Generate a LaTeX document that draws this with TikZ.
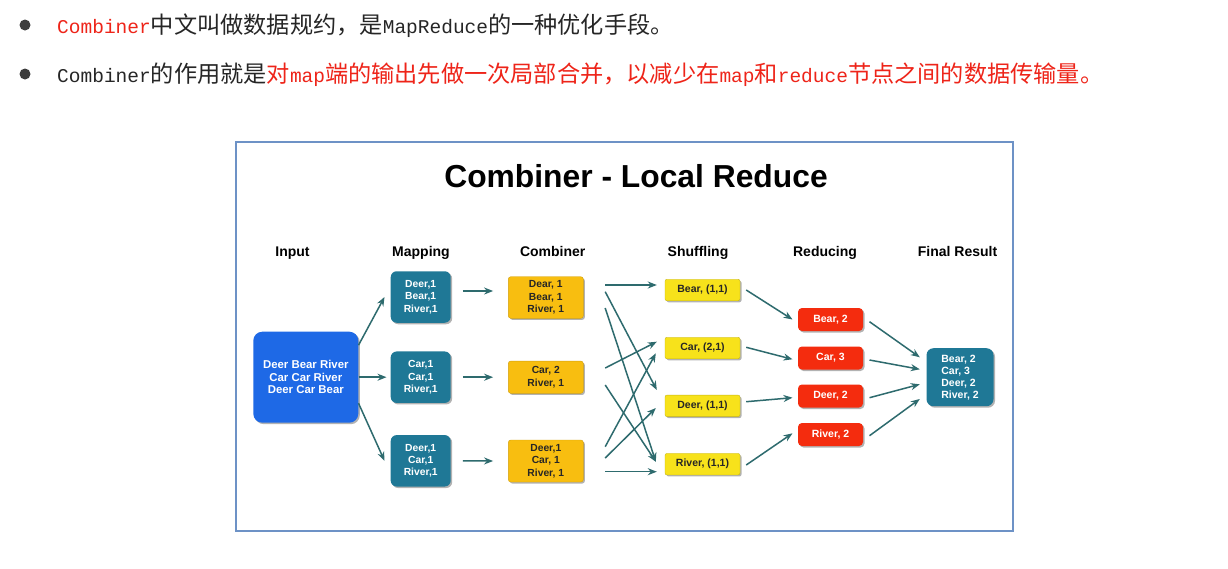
\documentclass[tikz,border=0pt]{standalone}
\usepackage{fontspec}
\setmainfont{Liberation Sans}
\newfontfamily\cjk{Noto Sans CJK SC}
\newfontfamily\lmono{Liberation Mono}
\usetikzlibrary{arrows.meta,shadows}
\definecolor{tred}{HTML}{EE2419}
\definecolor{tblack}{HTML}{262626}
\definecolor{framec}{HTML}{6D92C6}
\definecolor{inblue}{HTML}{1E69E6}
\definecolor{tealc}{HTML}{1F7896}
\definecolor{goldc}{HTML}{F8BE10}
\definecolor{yelc}{HTML}{F7E21B}
\definecolor{redc}{HTML}{F42C0E}
\definecolor{arrc}{HTML}{2E6B6E}
\newcommand\latn[1]{{\lmono\fontsize{19.5}{19.5}\selectfont #1}}
\begin{document}
\begin{tikzpicture}[x=1pt,y=-1pt,
  toptext/.style={anchor=base west, inner sep=0, font=\cjk\fontsize{23.2}{23.2}\selectfont, text=tblack},
  bullet/.style={circle, fill=tblack!90, minimum size=11pt, inner sep=0},
  hdr/.style={anchor=base, font=\bfseries\fontsize{14}{14}\selectfont, inner sep=0},
  shad/.style={drop shadow={shadow xshift=1.5pt, shadow yshift=-1.5pt, opacity=0.3, fill=black}},
  box/.style={shad, inner sep=0, align=center, font=\bfseries\fontsize{10.3}{12.3}\selectfont},
  inbox/.style={box, fill=inblue, text=white, rounded corners=9pt, minimum width=105pt, minimum height=91pt, font=\bfseries\fontsize{11.4}{12.5}\selectfont},
  mapbox/.style={box, fill=tealc, text=white, rounded corners=6pt, minimum width=60pt, minimum height=51.5pt},
  combox/.style={box, fill=goldc, draw=goldc!85!black, line width=0.4pt, text=black!85, rounded corners=2.5pt, minimum width=75pt},
  shufbox/.style={box, fill=yelc, draw=yelc!80!black, line width=0.4pt, text=black!85, rounded corners=2pt, minimum width=75pt, minimum height=21.5pt, font=\bfseries\fontsize{10.5}{12}\selectfont},
  redbox/.style={box, fill=redc, text=white, rounded corners=4pt, minimum width=65pt, minimum height=23pt, font=\bfseries\fontsize{10.5}{12}\selectfont},
  finbox/.style={box, fill=tealc, text=white, rounded corners=7pt, minimum width=67pt, minimum height=58pt, align=left, font=\bfseries\fontsize{10.5}{12}\selectfont},
  arr/.style={draw=arrc, line width=1.5pt, -{Stealth[length=9pt,width=7pt]}}
]
\fill[white] (0,0) rectangle (1228,568);
\useasboundingbox (0,0) rectangle (1228,568);

% top text
\node[bullet] (b1) at (25,25) {};
\node[bullet] (b2) at (25,74) {};
\node[toptext] (l1) at (57,33.7) {\textcolor{tred}{\latn{Combiner}}中文叫做数据规约，是\latn{MapReduce}的一种优化手段。};
\node[toptext] (l2) at (57,82.7) {\latn{Combiner}的作用就是\textcolor{tred}{对\latn{map}端的输出先做一次局部合并，以减少在\latn{map}和\latn{reduce}节点之间的数据传输量。}};

% frame
\node[draw=framec, line width=1.8pt, minimum width=777.6pt, minimum height=389.3pt, inner sep=0] (frame) at (624.5,336.35) {};
\node[font=\bfseries\fontsize{31.8}{32}\selectfont, inner sep=0] (title) at (636,176) {Combiner - Local Reduce};

% headers
\node[hdr] (hin) at (292.5,256) {Input};
\node[hdr] (hmap) at (421,256) {Mapping};
\node[hdr] (hcom) at (552.7,256) {Combiner};
\node[hdr] (hshu) at (698,256) {Shuffling};
\node[hdr] (hred) at (825,256) {Reducing};
\node[hdr] (hfin) at (957.5,256) {Final Result};

% boxes
\node[inbox] (inp) at (305.8,377.2) {Deer Bear River\\Car Car River\\Deer Car Bear};
\node[mapbox] (m1) at (420.7,297) {Deer,1\\Bear,1\\River,1};
\node[mapbox] (m2) at (420.7,377.2) {Car,1\\Car,1\\River,1};
\node[mapbox] (m3) at (420.7,460.8) {Deer,1\\Car,1\\River,1};
\node[combox, minimum height=41.6pt] (c1) at (545.8,297.5) {Dear, 1\\Bear, 1\\River, 1};
\node[combox, minimum height=32.3pt] (c2) at (545.8,377.2) {Car, 2\\River, 1};
\node[combox, minimum height=42pt] (c3) at (545.8,461) {Deer,1\\Car, 1\\River, 1};
\node[shufbox] (s1) at (702.5,290) {Bear, (1,1)};
\node[shufbox] (s2) at (702.5,348) {Car, (2,1)};
\node[shufbox] (s3) at (702.5,405.8) {Deer, (1,1)};
\node[shufbox] (s4) at (702.5,464.2) {River, (1,1)};
\node[redbox] (r1) at (830.5,319.5) {Bear, 2};
\node[redbox] (r2) at (830.5,358) {Car, 3};
\node[redbox] (r3) at (830.5,396) {Deer, 2};
\node[redbox] (r4) at (830.5,434.5) {River, 2};
\node[finbox] (fin) at (960,377.2) {Bear, 2\\Car, 3\\Deer, 2\\River, 2};

% input -> mapping
\draw[arr] ([yshift=32pt]inp.east) -- ([xshift=-6pt]m1.west);
\draw[arr] (inp.east) -- ([xshift=-4pt]m2.west);
\draw[arr] ([yshift=-26pt]inp.east) -- ([xshift=-6pt]m3.west);

% mapping -> combiner
\draw[arr] ([xshift=12pt,yshift=6pt]m1.east) -- ([xshift=-15pt,yshift=6.5pt]c1.west);
\draw[arr] ([xshift=12pt]m2.east) -- ([xshift=-15pt]c2.west);
\draw[arr] ([xshift=12pt]m3.east) -- ([xshift=-15pt]c3.west);

% combiner -> shuffling
\draw[arr] ([xshift=21.7pt,yshift=12.5pt]c1.east) -- ([xshift=-8pt,yshift=5pt]s1.west);
\draw[arr] ([xshift=21.7pt,yshift=5.8pt]c1.east) -- ([xshift=-8pt,yshift=15.8pt]s3.west);
\draw[arr] ([xshift=21.7pt,yshift=-10.5pt]c1.east) -- ([xshift=-9pt,yshift=2.5pt]s4.west);
\draw[arr] ([xshift=21.7pt,yshift=9.2pt]c2.east) -- ([xshift=-8pt,yshift=6.3pt]s2.west);
\draw[arr] ([xshift=21.7pt,yshift=-7.8pt]c2.east) -- ([xshift=-9pt,yshift=2.5pt]s4.west);
\draw[arr] ([xshift=21.7pt,yshift=14.3pt]c3.east) -- ([xshift=-9pt,yshift=-5.3pt]s2.west);
\draw[arr] ([xshift=21.7pt,yshift=3pt]c3.east) -- ([xshift=-9pt,yshift=-2.2pt]s3.west);
\draw[arr] ([xshift=21.7pt,yshift=-10.7pt]c3.east) -- ([xshift=-8pt,yshift=-7.5pt]s4.west);

% shuffling -> reducing
\draw[arr] ([xshift=6pt]s1.east) -- ([xshift=-5.3pt]r1.west);
\draw[arr] ([xshift=6pt,yshift=0.7pt]s2.east) -- ([xshift=-5.3pt,yshift=-1.3pt]r2.west);
\draw[arr] ([xshift=6pt,yshift=4.1pt]s3.east) -- ([xshift=-5.3pt,yshift=-1.7pt]r3.west);
\draw[arr] ([xshift=6pt,yshift=-0.8pt]s4.east) -- ([xshift=-5.3pt,yshift=1.2pt]r4.west);

% reducing -> final
\draw[arr] ([xshift=6.3pt,yshift=-2.2pt]r1.east) -- ([xshift=-6.5pt,yshift=19.9pt]fin.west);
\draw[arr] ([xshift=6.3pt,yshift=-2pt]r2.east) -- ([xshift=-6.5pt,yshift=7.9pt]fin.west);
\draw[arr] ([xshift=6.3pt,yshift=-1.7pt]r3.east) -- ([xshift=-6.5pt,yshift=-7.1pt]fin.west);
\draw[arr] ([xshift=6.3pt,yshift=-1.2pt]r4.east) -- ([xshift=-6.5pt,yshift=-21.8pt]fin.west);
\end{tikzpicture}
\end{document}
